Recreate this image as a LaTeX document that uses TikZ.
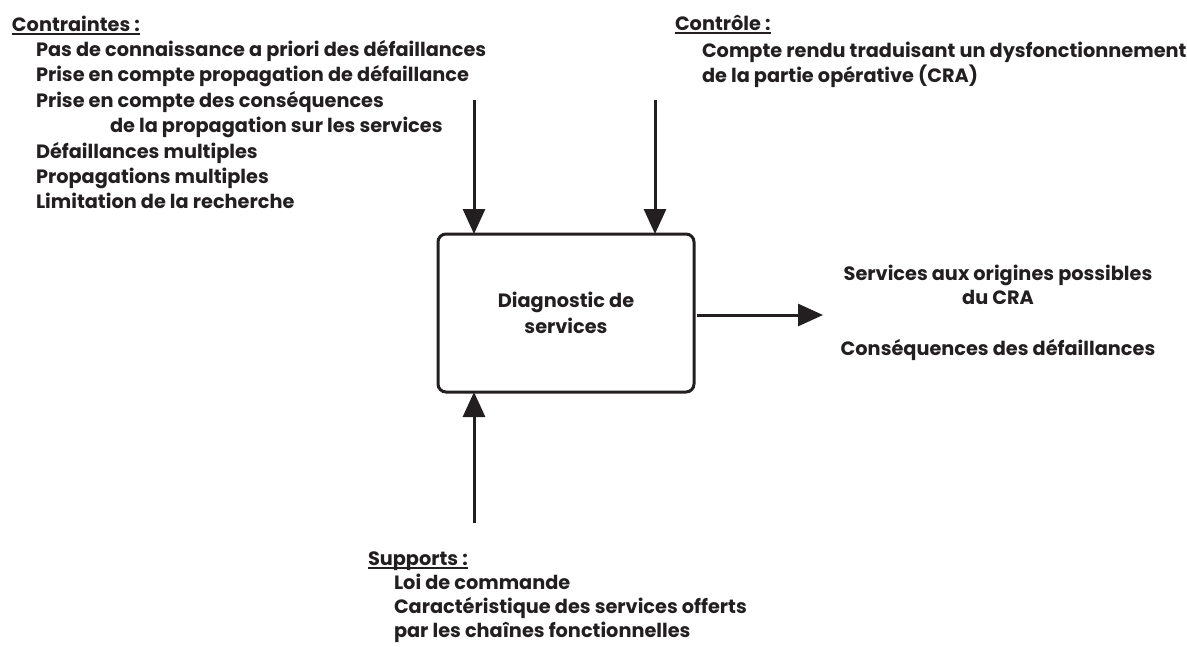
\documentclass[tikz,border=0pt]{standalone}
\usepackage{fontspec}
\setmainfont{Poppins}
\usetikzlibrary{arrows.meta}
\definecolor{ink}{RGB}{35,31,32}
\newcommand\myul[1]{\setbox0\hbox{#1}\rlap{\color{ink}\rule[-3.5pt]{\wd0}{1.4pt}}\box0}
\begin{document}
\begin{tikzpicture}[x=1pt,y=-1pt,
  every node/.style={inner sep=0pt, outer sep=0pt, text=ink, font=\fontsize{19.3}{26}\selectfont\bfseries},
  lbl/.style={anchor=base west},
  ctr/.style={anchor=base},
  arr/.style={line width=3pt, draw=ink, -{Triangle[length=25pt,width=22pt]}},
  mainbox/.style={draw=ink, line width=3pt, rounded corners=8pt, minimum width=256pt, minimum height=158pt, align=center}]
\useasboundingbox (0,0) rectangle (1187,646);
% main box
\node[mainbox] (box) at (566,313) {Diagnostic de\\services};
% constraints
\node[lbl] (ch) at (12,31) {\myul{Contraintes :}};
\node[lbl] (c1) at (36,56) {Pas de connaissance a priori des défaillances};
\node[lbl] (c2) at (36,81.5) {Prise en compte propagation de défaillance};
\node[lbl] (c3) at (36,107) {Prise en compte des conséquences};
\node[lbl] (c4) at (110,132.5) {de la propagation sur les services};
\node[lbl] (c5) at (36,158) {Défaillances multiples};
\node[lbl] (c6) at (36,183) {Propagations multiples};
\node[lbl] (c7) at (36,208) {Limitation de la recherche};
% control
\node[lbl] (kh) at (675,30) {\myul{Contrôle :}};
\node[lbl] (k1) at (702,57) {Compte rendu traduisant un dysfonctionnement};
\node[lbl] (k2) at (702,82) {de la partie opérative (CRA)};
% supports
\node[lbl] (sh) at (368,565) {\myul{Supports :}};
\node[lbl] (s1) at (394,589) {Loi de commande};
\node[lbl] (s2) at (394,613) {Caractéristique des services offerts};
\node[lbl] (s3) at (394,637) {par les chaînes fonctionnelles};
% outputs
\node[ctr] (o1) at (998,280) {Services aux origines possibles};
\node[ctr] (o2) at (998,304) {du CRA};
\node[ctr] (o3) at (998,355) {Conséquences des défaillances};
% arrows
\coordinate (a1) at (474,100);
\coordinate (a2) at (655,100);
\coordinate (a3) at (474,523);
\coordinate (a4) at (823,315);
\draw[arr] (a1) -- (a1 |- box.north);
\draw[arr] (a2) -- (a2 |- box.north);
\draw[arr] (a3) -- (a3 |- box.south);
\draw[arr] ([xshift=3pt]box.east |- a4) -- (a4);
\end{tikzpicture}
\end{document}
